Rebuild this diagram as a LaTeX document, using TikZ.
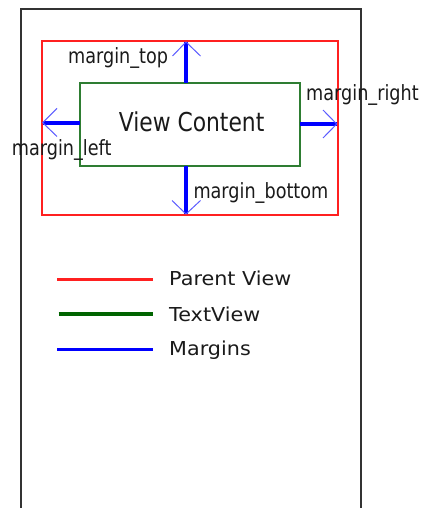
\documentclass[tikz,border=0pt]{standalone}
\usepackage{fontspec}
\setmainfont{DejaVu Sans}
\newfontfamily\lblfont[FakeStretch=0.84]{DejaVu Sans}
\newfontfamily\legfont[FakeStretch=1.08]{DejaVu Sans}
\definecolor{framegray}{HTML}{333333}
\definecolor{parentred}{HTML}{FF2020}
\definecolor{contentgreen}{HTML}{2E7D32}
\definecolor{leggreen}{HTML}{006400}
\definecolor{shaftblue}{HTML}{0000FF}
\definecolor{barbblue}{HTML}{5C5CFF}
\definecolor{txt}{HTML}{1A1A1A}
\begin{document}
\begin{tikzpicture}[x=1pt,y=-1pt,
  frameline/.style={draw=framegray,line width=2pt},
  boxnode/.style={inner sep=0pt,outer sep=0pt},
  parentedge/.style={draw=parentred,line width=2pt},
  contentedge/.style={draw=contentgreen,line width=2pt},
  shaft/.style={draw=shaftblue,line width=4pt},
  barb/.style={draw=barbblue,line width=1pt},
  lbl/.style={inner sep=0pt,text=txt,font=\lblfont\fontsize{21}{21}\selectfont},
  legtext/.style={inner sep=0pt,text=txt,anchor=base west,font=\legfont\fontsize{19.2}{19.2}\selectfont},
  legline/.style={line width=3.3pt}]
\useasboundingbox (0,0) rectangle (422,508);
% outer frame (open at bottom)
\draw[frameline] (20.5,520) -- (20.5,9) -- (361,9) -- (361,520);
% parent and content
\node[boxnode,minimum width=296pt,minimum height=173pt] (parent) at (189.5,128) {};
\node[boxnode,minimum width=220pt,minimum height=83pt] (content) at (189.5,124.5) {};
\draw[parentedge] (parent.north west) rectangle (parent.south east);
\draw[contentedge] (content.north west) rectangle (content.south east);
\node[lbl,anchor=base,font=\lblfont\fontsize{26}{26}\selectfont] (vc) at (191.6,131.7) {View Content};
% tips
\coordinate (ttop) at (186,42);
\coordinate (tbot) at (186,214);
\coordinate (tleft) at (42.7,122.7);
\coordinate (tright) at (336.7,124);
\draw[shaft] (content.north -| ttop) -- (ttop);
\draw[shaft] (content.south -| tbot) -- (tbot);
\draw[shaft] (content.west |- tleft) -- (tleft);
\draw[shaft] (content.east |- tright) -- (tright);
\draw[barb] (172.5,56) -- (ttop) -- (200.5,56);
\draw[barb] (172,200.5) -- (tbot) -- (200.5,200.5);
\draw[barb] (57,108.3) -- (tleft) -- (57,136.5);
\draw[barb] (323,110) -- (tright) -- (323,138);
% labels
\node[lbl,anchor=base east] (ltop) at (168.3,63.3) {margin\_top};
\node[lbl,anchor=base west] (lright) at (306,100.7) {margin\_right};
\node[lbl,anchor=base west] (lleft) at (11.7,155) {margin\_left};
\node[lbl,anchor=base west] (lbottom) at (193.3,198.3) {margin\_bottom};
% legend
\coordinate (r1) at (57.3,279.7); \coordinate (r2) at (152.7,279.7);
\coordinate (g1) at (58.5,314); \coordinate (g2) at (153,314);
\coordinate (b1) at (57.3,349.3); \coordinate (b2) at (152.5,349.3);
\draw[legline,draw=parentred] (r1) -- (r2);
\draw[legline,draw=leggreen] (g1) -- (g2);
\draw[legline,draw=shaftblue] (b1) -- (b2);
\node[legtext] (lp) at (169,285.7) {Parent View};
\node[legtext] (lt) at (169,321) {TextView};
\node[legtext] (lm) at (169,355.7) {Margins};
\end{tikzpicture}
\end{document}
